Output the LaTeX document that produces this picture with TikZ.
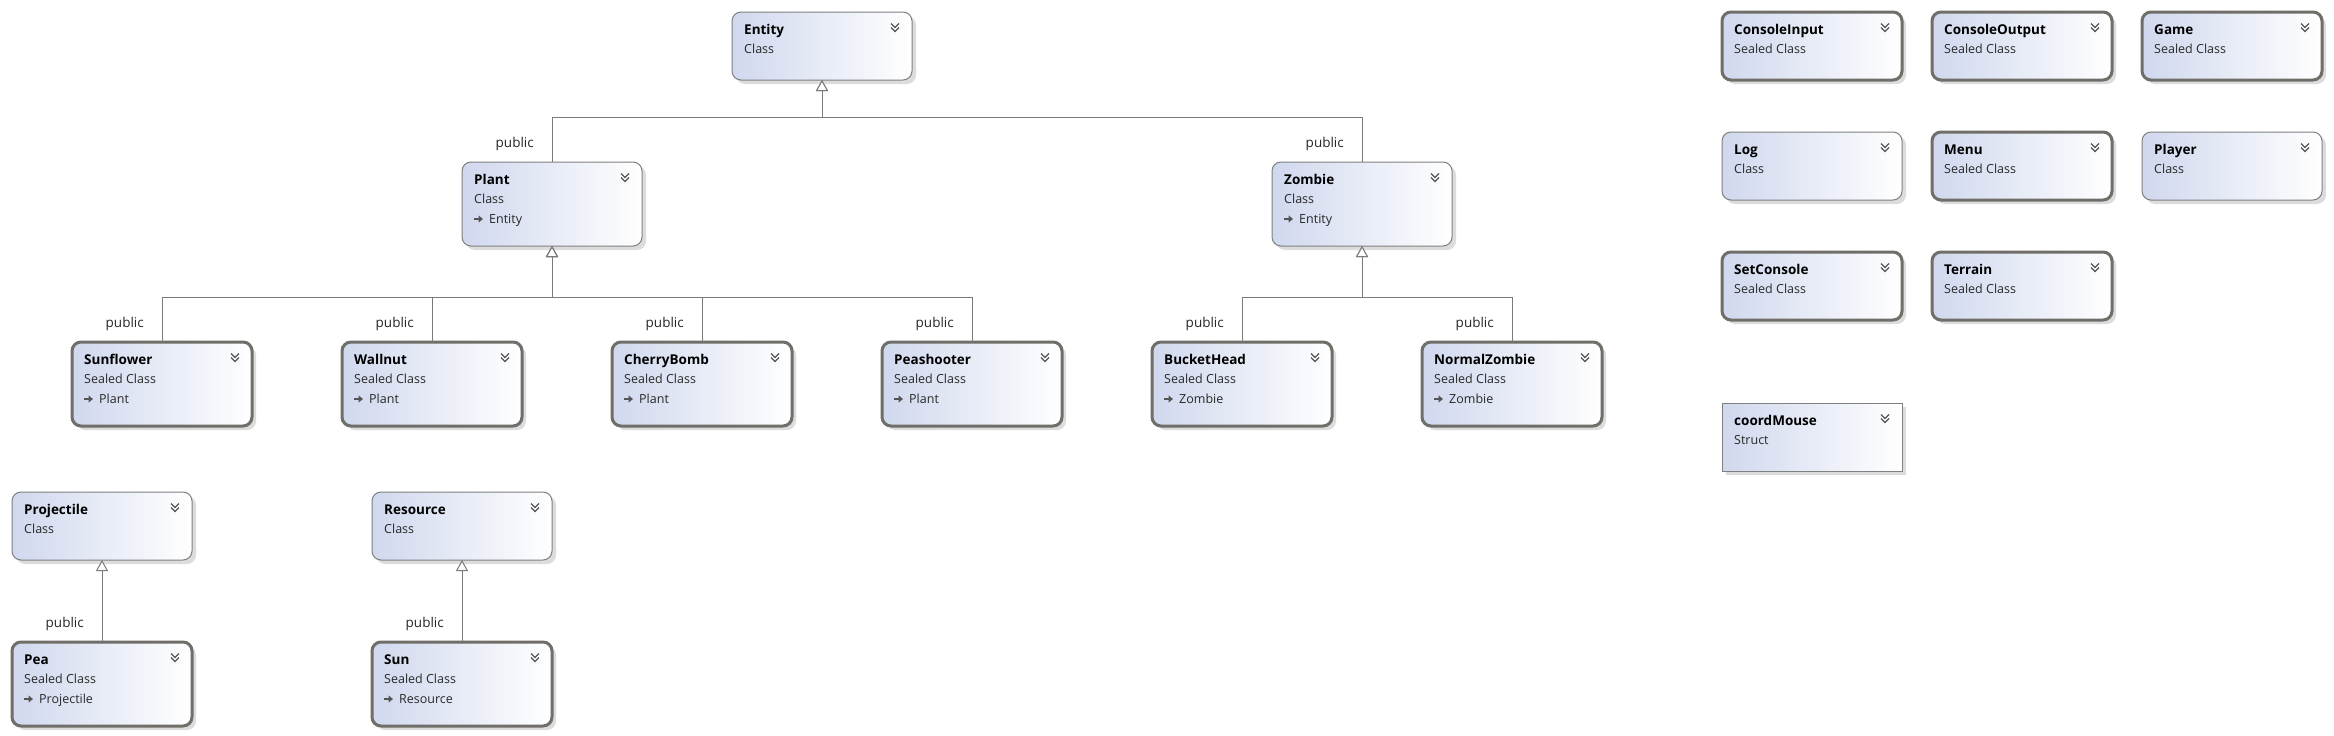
\documentclass[tikz,border=0pt]{standalone}
\usepackage{fontspec}
\setmainfont{Open Sans}
\usetikzlibrary{arrows.meta,shadows}
\definecolor{boxl}{RGB}{208,216,238}
\definecolor{thickb}{RGB}{112,110,104}
\definecolor{thinb}{RGB}{128,128,128}
\definecolor{conn}{RGB}{122,122,122}
\definecolor{chevc}{RGB}{85,85,85}
\definecolor{txt}{RGB}{40,40,40}
\definecolor{shad}{RGB}{220,220,220}
\tikzset{
  umlnode/.style={rectangle, inner sep=0pt, outer sep=0pt, minimum width=180pt,
    left color=boxl, right color=white,
    drop shadow={shadow xshift=4pt, shadow yshift=-4pt, fill=shad, opacity=1}},
  thinclass/.style={umlnode, rounded corners=9pt, draw=thinb, line width=1pt},
  sealedclass/.style={umlnode, rounded corners=9pt, draw=thickb, line width=3pt},
  structbox/.style={umlnode, draw=thinb, line width=1pt},
  two/.style={minimum height=68pt},
  three/.style={minimum height=84pt},
  ttl/.style={font=\bfseries\fontsize{13.5}{16}\selectfont, anchor=base west, inner sep=0pt, text=black},
  knd/.style={font=\fontsize{12.5}{15}\selectfont, anchor=base west, inner sep=0pt, text=txt},
  lbl/.style={font=\fontsize{13.5}{16}\selectfont, anchor=east, inner sep=0pt, text=txt},
  chev/.style={draw=chevc, line width=1.3pt},
  basearrow/.style={draw=chevc, line width=1.8pt, -{Triangle[length=4.5pt,width=7pt]}},
  inh/.style={draw=conn, line width=1pt, {Triangle[length=11pt,width=12pt,fill=white]}-},
}
\newcommand{\umlchev}[1]{%
  \draw[chev] ([shift={(-21,11.5)}]#1.north east) -- ++(4,4) -- ++(4,-4);
  \draw[chev] ([shift={(-21,15.5)}]#1.north east) -- ++(4,4) -- ++(4,-4);}
\newcommand{\classtwo}[6]{%
  \node[#2, two, anchor=north west] (#1) at (#3,#4) {};
  \node[ttl] (#1-t) at ([shift={(12,22)}]#1.north west) {#5};
  \node[knd] (#1-k) at ([shift={(12,41.5)}]#1.north west) {#6};
  \umlchev{#1}}
\newcommand{\classthree}[7]{%
  \node[#2, three, anchor=north west] (#1) at (#3,#4) {};
  \node[ttl] (#1-t) at ([shift={(12,22)}]#1.north west) {#5};
  \node[knd] (#1-k) at ([shift={(12,41.5)}]#1.north west) {#6};
  \draw[basearrow] ([shift={(12,57)}]#1.north west) -- ++(9,0);
  \node[knd] (#1-b) at ([shift={(27,61.5)}]#1.north west) {#7};
  \umlchev{#1}}
\begin{document}
\begin{tikzpicture}[x=1pt, y=-1pt]
\fill[white] (0,0) rectangle (2334,736);
\useasboundingbox (0,0) rectangle (2334,736);
% hierarchy
\classtwo{entity}{thinclass}{732}{12}{Entity}{Class}
\classthree{plant}{thinclass}{462}{162}{Plant}{Class}{Entity}
\classthree{zombie}{thinclass}{1272}{162}{Zombie}{Class}{Entity}
\classthree{sunflower}{sealedclass}{72}{342}{Sunflower}{Sealed Class}{Plant}
\classthree{wallnut}{sealedclass}{342}{342}{Wallnut}{Sealed Class}{Plant}
\classthree{cherrybomb}{sealedclass}{612}{342}{CherryBomb}{Sealed Class}{Plant}
\classthree{peashooter}{sealedclass}{882}{342}{Peashooter}{Sealed Class}{Plant}
\classthree{buckethead}{sealedclass}{1152}{342}{BucketHead}{Sealed Class}{Zombie}
\classthree{normalzombie}{sealedclass}{1422}{342}{NormalZombie}{Sealed Class}{Zombie}
\classtwo{projectile}{thinclass}{12}{492}{Projectile}{Class}
\classthree{pea}{sealedclass}{12}{642}{Pea}{Sealed Class}{Projectile}
\classtwo{resource}{thinclass}{372}{492}{Resource}{Class}
\classthree{sun}{sealedclass}{372}{642}{Sun}{Sealed Class}{Resource}
% standalone classes
\classtwo{consoleinput}{sealedclass}{1722}{12}{ConsoleInput}{Sealed Class}
\classtwo{consoleoutput}{sealedclass}{1932}{12}{ConsoleOutput}{Sealed Class}
\classtwo{game}{sealedclass}{2142}{12}{Game}{Sealed Class}
\classtwo{log}{thinclass}{1722}{132}{Log}{Class}
\classtwo{menu}{sealedclass}{1932}{132}{Menu}{Sealed Class}
\classtwo{player}{thinclass}{2142}{132}{Player}{Class}
\classtwo{setconsole}{sealedclass}{1722}{252}{SetConsole}{Sealed Class}
\classtwo{terrain}{sealedclass}{1932}{252}{Terrain}{Sealed Class}
\classtwo{coordmouse}{structbox}{1722}{403}{coordMouse}{Struct}
% inheritance connectors
\draw[inh] (entity.south) -- ++(0,37) -| (plant.north);
\draw[inh] (entity.south) -- ++(0,37) -| (zombie.north);
\foreach \c in {sunflower,wallnut,cherrybomb,peashooter}
  \draw[inh] (plant.south) -- ++(0,51) -| (\c.north);
\foreach \c in {buckethead,normalzombie}
  \draw[inh] (zombie.south) -- ++(0,51) -| (\c.north);
\draw[inh] (projectile.south) -- (pea.north);
\draw[inh] (resource.south) -- (sun.north);
% labels
\foreach \c in {plant,zombie,sunflower,wallnut,cherrybomb,peashooter,buckethead,normalzombie,pea,sun}
  \node[lbl] (\c-lbl) at ([shift={(-18,-18)}]\c.north) {public};
\end{tikzpicture}
\end{document}
